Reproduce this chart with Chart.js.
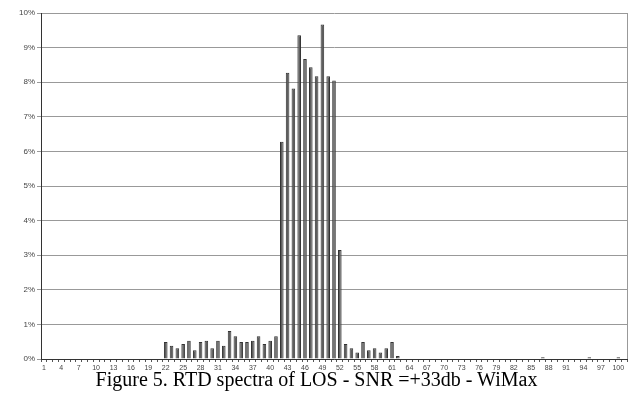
<!DOCTYPE html>
<html>
<head>
<meta charset="utf-8">
<script src="https://cdn.jsdelivr.net/npm/chart.js@4/dist/chart.umd.min.js"></script>
<style>
  body { margin: 0; background: #fff; width: 633px; height: 401px; overflow: hidden; }
  #wrap { position: relative; width: 633px; height: 371px; }
  #caption {
    position: absolute; left: 0; top: 368px; width: 633px; text-align: center;
    font-family: "Liberation Serif", "Times New Roman", serif; font-size: 20px; color: #000;
  }
</style>
</head>
<body>
<div id="wrap"><canvas id="rtdChart"></canvas></div>
<div id="caption">Figure 5. RTD spectra of LOS - SNR =+33db - WiMax</div>
<script>
// RTD bins 1..101
const bins = [];
for (let i = 1; i <= 101; i++) bins.push(String(i));

// share of samples per bin, in %
const shareLow = [
  0, 0, 0, 0, 0, 0, 0, 0, 0, 0,
  0, 0, 0, 0, 0, 0, 0, 0, 0, 0,
  0, 0.49, 0.38, 0.31, 0.43, 0.53, 0.25, 0.49, 0.53, 0.31,
  0.53, 0.38, 0.81, 0.66, 0.49, 0.49, 0.53, 0.66, 0.43, 0.53,
  0.66
];
const sharePeak = [6.28, 8.27, 7.82, 9.36, 8.67, 8.43, 8.17, 9.67, 8.17, 8.05, 3.15];
const shareHigh = [
  0.43, 0.31, 0.19, 0.49, 0.25, 0.31, 0.19, 0.31, 0.49, 0.09,
  0, 0, 0, 0, 0, 0, 0, 0, 0, 0,
  0, 0, 0, 0, 0, 0, 0, 0, 0, 0,
  0, 0, 0, 0, 0.05, 0, 0, 0, 0, 0,
  0, 0, 0.05, 0, 0, 0, 0, 0.05
];
const shareValues = shareLow.concat(sharePeak, shareHigh);

const yTicks = [0, 1, 2, 3, 4, 5, 6, 7, 8, 9, 10];

// right edge of the plot frame
const frameRight = {
  id: 'frameRight',
  afterDraw(chart) {
    const { ctx, chartArea } = chart;
    ctx.save();
    ctx.strokeStyle = '#999';
    ctx.lineWidth = 1;
    ctx.beginPath();
    ctx.moveTo(Math.round(chartArea.right) + 0.5, chartArea.top);
    ctx.lineTo(Math.round(chartArea.right) + 0.5, chartArea.bottom);
    ctx.stroke();
    ctx.restore();
  }
};

const ctx = document.getElementById('rtdChart').getContext('2d');
new Chart(ctx, {
  type: 'bar',
  data: {
    labels: bins,
    datasets: [{
      label: 'RTD',
      data: shareValues,
      backgroundColor: '#5e5e5e',
      borderColor: '#333',
      borderWidth: 1,
      barPercentage: 0.62,
      categoryPercentage: 1.0
    }]
  },
  options: {
    responsive: true,
    maintainAspectRatio: false,
    animation: false,
    layout: { padding: { top: 13, right: 6, left: 0, bottom: 0 } },
    plugins: {
      legend: { display: false },
      tooltip: { enabled: false }
    },
    scales: {
      x: {
        grid: { drawOnChartArea: false, drawTicks: true, tickLength: 3, color: '#555', offset: true },
        border: { color: '#333' },
        ticks: {
          autoSkip: false,
          maxRotation: 0,
          padding: 2,
          color: '#444',
          font: { family: 'Liberation Sans, Arial, sans-serif', size: 7 },
          callback: (v, i) => (i % 3 === 0 ? bins[i] : '')
        },
        afterFit: s => { s.height = 12; }
      },
      y: {
        min: 0,
        max: 10,
        afterBuildTicks: s => { s.ticks = yTicks.map(v => ({ value: v })); },
        grid: { color: '#999', tickLength: 4, drawTicks: true },
        border: { color: '#333' },
        ticks: {
          color: '#444',
          padding: 2,
          font: { family: 'Liberation Sans, Arial, sans-serif', size: 8 },
          callback: v => v + '%'
        },
        afterFit: s => { s.width = 41; }
      }
    }
  },
  plugins: [frameRight]
});
</script>
</body>
</html>
